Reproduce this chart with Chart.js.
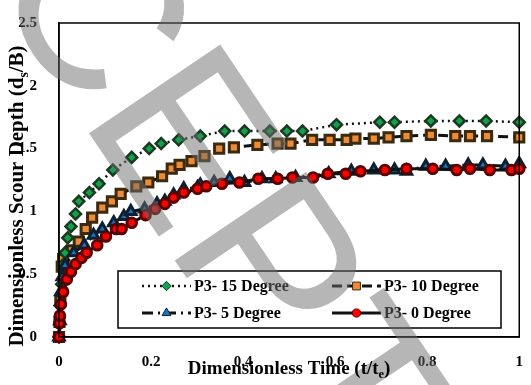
<!DOCTYPE html>
<html>
<head>
<meta charset="utf-8">
<script src="https://cdn.jsdelivr.net/npm/chart.js@4.4.1/dist/chart.umd.min.js"></script>
<style>
  html, body { margin: 0; padding: 0; background: #fff; }
  #wrap { width: 531px; height: 385px; }
</style>
</head>
<body>
<div id="wrap"><canvas id="myChart" width="531" height="385"></canvas></div>
<script>
// values (t/te, ds/B)
const t15 = [0, 0.002, 0.006, 0.010, 0.013, 0.019, 0.026, 0.036, 0.043, 0.066, 0.087, 0.117, 0.158, 0.196, 0.222, 0.260, 0.307, 0.360, 0.403, 0.458, 0.495, 0.529, 0.603, 0.697, 0.729, 0.808, 0.870, 0.928, 1.0];
const d15 = [0, 0.25, 0.42, 0.58, 0.67, 0.79, 0.88, 0.98, 1.08, 1.15, 1.22, 1.33, 1.43, 1.50, 1.54, 1.57, 1.60, 1.64, 1.64, 1.64, 1.64, 1.64, 1.69, 1.71, 1.71, 1.72, 1.72, 1.72, 1.71];

const t10 = [0, 0.001, 0.003, 0.006, 0.009, 0.028, 0.043, 0.058, 0.072, 0.094, 0.115, 0.134, 0.168, 0.194, 0.224, 0.245, 0.262, 0.288, 0.316, 0.348, 0.380, 0.431, 0.475, 0.503, 0.550, 0.588, 0.625, 0.644, 0.684, 0.716, 0.755, 0.808, 0.861, 0.893, 0.930, 1.0];
const d10 = [0, 0.12, 0.29, 0.56, 0.62, 0.69, 0.76, 0.86, 0.95, 1.03, 1.08, 1.14, 1.20, 1.23, 1.28, 1.34, 1.37, 1.40, 1.44, 1.50, 1.51, 1.53, 1.54, 1.54, 1.57, 1.57, 1.57, 1.58, 1.58, 1.59, 1.60, 1.61, 1.60, 1.60, 1.60, 1.59];

const t5 = [0, 0.002, 0.004, 0.007, 0.013, 0.032, 0.055, 0.075, 0.094, 0.119, 0.141, 0.156, 0.186, 0.213, 0.230, 0.249, 0.271, 0.301, 0.307, 0.337, 0.371, 0.403, 0.441, 0.471, 0.514, 0.586, 0.635, 0.684, 0.729, 0.755, 0.797, 0.840, 0.889, 0.921, 0.970, 1.0];
const d5 = [0, 0.13, 0.36, 0.48, 0.57, 0.67, 0.73, 0.81, 0.86, 0.91, 0.96, 1.00, 1.02, 1.06, 1.08, 1.13, 1.18, 1.19, 1.21, 1.23, 1.26, 1.23, 1.26, 1.26, 1.27, 1.30, 1.32, 1.33, 1.33, 1.32, 1.36, 1.36, 1.37, 1.37, 1.36, 1.38];

const t0 = [0, 0.001, 0.002, 0.004, 0.009, 0.017, 0.026, 0.036, 0.049, 0.060, 0.083, 0.102, 0.124, 0.136, 0.158, 0.188, 0.209, 0.230, 0.249, 0.271, 0.301, 0.320, 0.354, 0.392, 0.433, 0.475, 0.507, 0.552, 0.584, 0.623, 0.655, 0.708, 0.755, 0.812, 0.864, 0.893, 0.936, 0.983, 1.0];
const d0 = [0, 0.11, 0.17, 0.26, 0.36, 0.46, 0.52, 0.58, 0.63, 0.67, 0.73, 0.80, 0.86, 0.86, 0.91, 0.97, 1.02, 1.06, 1.11, 1.15, 1.18, 1.20, 1.22, 1.23, 1.26, 1.26, 1.27, 1.27, 1.30, 1.30, 1.32, 1.33, 1.34, 1.34, 1.33, 1.34, 1.33, 1.33, 1.34];

const seriesNames = ["P3- 15 Degree", "P3- 10 Degree", "P3- 5 Degree", "P3- 0 Degree"];
const xTicks = [0, 0.2, 0.4, 0.6, 0.8, 1];
const yTicks = [0, 0.5, 1, 1.5, 2, 2.5];

const toPoints = (xs, ys) => xs.map((x, i) => ({ x: x, y: ys[i] }));
const serif = "'Liberation Serif', 'Times New Roman', serif";

// axis titles with subscripts
const axisTitles = {
  id: "axisTitles",
  afterDraw(chart) {
    const { ctx, chartArea } = chart;
    const drawSub = (parts, size) => {
      // parts: [text, isSub]
      let w = 0;
      parts.forEach((p) => {
        ctx.font = `bold ${p[1] ? size * 0.65 : size}px ${serif}`;
        w += ctx.measureText(p[0]).width;
      });
      let x = -w / 2;
      parts.forEach((p) => {
        ctx.font = `bold ${p[1] ? size * 0.65 : size}px ${serif}`;
        ctx.fillText(p[0], x, p[1] ? size * 0.22 : 0);
        x += ctx.measureText(p[0]).width;
      });
    };
    ctx.save();
    ctx.fillStyle = "#000";
    ctx.textBaseline = "alphabetic";
    ctx.textAlign = "left";
    ctx.translate((chartArea.left + chartArea.right) / 2, 374);
    drawSub([["Dimensionless Time (t/t", false], ["e", true], [")", false]], 19);
    ctx.restore();

    ctx.save();
    ctx.fillStyle = "#000";
    ctx.textAlign = "left";
    ctx.translate(23, (chartArea.top + chartArea.bottom) / 2 + 16);
    ctx.rotate(-Math.PI / 2);
    drawSub([["Dimensionless Scour Depth (d", false], ["s", true], ["/B)", false]], 21);
    ctx.restore();
  },
};

// frame, legend box and watermark
const boxLegend = {
  id: "boxLegend",
  afterDraw(chart) {
    const { ctx, chartArea } = chart;
    ctx.save();
    ctx.strokeStyle = "#000";
    ctx.lineWidth = 1.5;
    ctx.strokeRect(chartArea.left, chartArea.top, chartArea.right - chartArea.left, chartArea.bottom - chartArea.top);

    const bx = chartArea.left + 59, by = chartArea.bottom - 66;
    const bw = 383, bh = 57;
    ctx.fillStyle = "#fff";
    ctx.fillRect(bx, by, bw, bh);
    ctx.strokeRect(bx, by, bw, bh);

    const cols = [bx + 24, bx + 214];
    const rows = [by + 15, by + 42];
    chart.data.datasets.forEach((ds, i) => {
      const x0 = cols[i % 2], y0 = rows[Math.floor(i / 2)];
      const len = 49;
      ctx.save();
      ctx.strokeStyle = ds.borderColor;
      ctx.lineWidth = ds.borderWidth;
      ctx.setLineDash(ds.borderDash || []);
      ctx.beginPath();
      ctx.moveTo(x0, y0);
      ctx.lineTo(x0 + len, y0);
      ctx.stroke();
      ctx.setLineDash([]);
      ctx.fillStyle = ds.pointBackgroundColor;
      ctx.strokeStyle = ds.pointBorderColor;
      ctx.lineWidth = 1;
      Chart.helpers.drawPoint(ctx, { pointStyle: ds.pointStyle, radius: ds.pointRadius * 0.85, rotation: 0, borderWidth: 1 }, x0 + len / 2, y0);
      ctx.restore();
      ctx.fillStyle = "#000";
      ctx.font = `bold 16px ${serif}`;
      ctx.textBaseline = "middle";
      ctx.textAlign = "left";
      ctx.fillText(ds.label, x0 + len + 3, y0 + 1);
    });
    ctx.restore();

    // watermark
    ctx.save();
    ctx.translate(-193, -285);
    ctx.rotate(56 * Math.PI / 180);
    ctx.fillStyle = "rgba(110,110,110,0.5)";
    ctx.font = "230px 'Liberation Sans', Arial, sans-serif";
    ctx.textBaseline = "alphabetic";
    ctx.fillText("ACCEPTED MANUSCRIPT", 0, 0);
    ctx.restore();
  },
};

const ctx = document.getElementById("myChart").getContext("2d");

const data = {
  datasets: [
    {
      label: seriesNames[0],
      data: toPoints(t15, d15),
      borderColor: "#111",
      borderWidth: 2.5,
      borderDash: [2, 4],
      pointStyle: "rectRot",
      pointRadius: 5.5,
      pointBackgroundColor: "#12a04e",
      pointBorderColor: "#1a3a20",
      order: 3,
    },
    {
      label: seriesNames[1],
      data: toPoints(t10, d10),
      borderColor: "#111",
      borderWidth: 3,
      borderDash: [10, 5],
      pointStyle: "rect",
      pointRadius: 6.5,
      pointBackgroundColor: "#f08a34",
      pointBorderColor: "#3a2a10",
      order: 4,
    },
    {
      label: seriesNames[2],
      data: toPoints(t5, d5),
      borderColor: "#111",
      borderWidth: 3,
      borderDash: [11, 5, 2, 5],
      pointStyle: "triangle",
      pointRadius: 6,
      pointBackgroundColor: "#1f6fc0",
      pointBorderColor: "#0d2030",
      order: 2,
    },
    {
      label: seriesNames[3],
      data: toPoints(t0, d0),
      borderColor: "#111",
      borderWidth: 3,
      pointStyle: "circle",
      pointRadius: 4.8,
      pointBackgroundColor: "#ff0000",
      pointBorderColor: "#5a0000",
      order: 1,
    },
  ],
};

const config = {
  type: "line",
  data: data,
  options: {
    responsive: false,
    animation: false,
    clip: false,
    layout: { padding: { top: 13, right: 3, left: 0, bottom: 0 } },
    elements: { line: { tension: 0 }, point: { borderWidth: 1 } },
    plugins: { legend: { display: false }, tooltip: { enabled: false } },
    scales: {
      x: {
        type: "linear",
        min: 0,
        max: 1,
        afterFit: (s) => { s.height = 48; },
        afterBuildTicks: (s) => { s.ticks = xTicks.map((v) => ({ value: v })); },
        grid: { display: false },
        border: { display: true, color: "#000", width: 1.5 },
        ticks: { color: "#000", padding: 8, font: { family: serif, size: 15, weight: "bold" }, callback: (v) => String(v) },
      },
      y: {
        type: "linear",
        min: 0,
        max: 2.5,
        afterFit: (s) => { s.width = 59; },
        afterBuildTicks: (s) => { s.ticks = yTicks.map((v) => ({ value: v })); },
        grid: { display: false },
        border: { display: true, color: "#000", width: 1.5 },
        ticks: { color: "#000", padding: 14, font: { family: serif, size: 15, weight: "bold" }, callback: (v) => String(v) },
      },
    },
  },
  plugins: [boxLegend, axisTitles],
};

const myChart = new Chart(ctx, config);
</script>
</body>
</html>
